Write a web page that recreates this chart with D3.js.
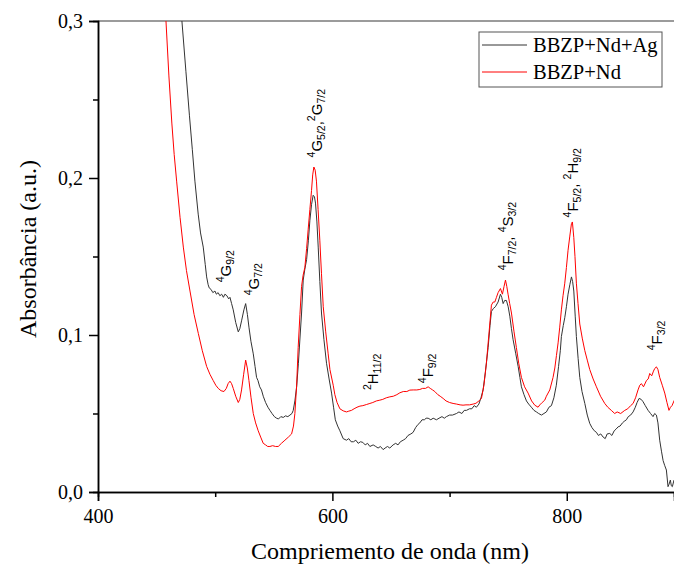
<!DOCTYPE html>
<html>
<head>
<meta charset="utf-8">
<script src="https://cdn.jsdelivr.net/npm/d3@7"></script>
<style>
  body { margin: 0; background: #fff; }
  .axis text { font-family: "Liberation Serif", "Times New Roman", Times, serif; font-size: 20px; fill: #000; }
  .axis path, .axis line { stroke: #000; stroke-width: 1.5; }
  .serif { font-family: "Liberation Serif", "Times New Roman", Times, serif; }
  .sans { font-family: "Liberation Sans", Arial, Helvetica, sans-serif; }
</style>
</head>
<body>
<div id="chart-area"></div>
<script>
// Nd-doped glass absorption, sample with silver (black) and without (red)
const agSeries = [[465,0.36],[468,0.33],[471.6,0.30],[475,0.268],[478,0.24],[480.5,0.218],[482.7,0.198],[485.5,0.177],[487.5,0.165],[489.8,0.156],[491.5,0.145],[492.7,0.137],[494,0.132],[494.9,0.130],[496.5,0.129],[498,0.127],[499.8,0.128],[501,0.126],[502.5,0.127],[504,0.125],[505.5,0.126],[507,0.124],[508.3,0.126],[510,0.125],[511.5,0.123],[512.6,0.124],[514,0.120],[515.4,0.116],[517.5,0.108],[519.7,0.102],[521,0.104],[522.5,0.109],[524.5,0.116],[526,0.120],[527.5,0.113],[528.8,0.105],[530.5,0.096],[532.5,0.088],[534,0.080],[535.3,0.073],[536.5,0.071],[538,0.067],[539.5,0.065],[541,0.061],[543,0.057],[545,0.054],[546.7,0.052],[548.5,0.050],[550.5,0.048],[552.4,0.047],[554,0.0465],[556,0.048],[558.1,0.0475],[560,0.0485],[562,0.048],[563.8,0.049],[565.5,0.050],[566.6,0.052],[568,0.058],[569.5,0.067],[571,0.082],[572.5,0.100],[573.7,0.114],[575.1,0.135],[576.5,0.142],[578,0.148],[579.5,0.160],[580.8,0.173],[582.2,0.183],[583.6,0.189],[584.7,0.188],[585.6,0.184],[586.8,0.172],[587.9,0.156],[589.3,0.134],[590.7,0.114],[592.8,0.097],[595,0.082],[597.2,0.072],[599.3,0.063],[601,0.054],[602.5,0.046],[604.5,0.042],[606.4,0.039],[609.2,0.034],[612,0.033],[614,0.034],[616,0.032],[618,0.032],[620,0.033],[622,0.031],[624,0.032],[626,0.0316],[628,0.030],[630,0.031],[632,0.029],[634.8,0.030],[637,0.029],[639,0.028],[641,0.029],[643.3,0.027],[645,0.028],[647,0.029],[649,0.028],[651.8,0.030],[654,0.031],[656,0.030],[658,0.032],[660.4,0.033],[662.5,0.034],[664.5,0.036],[667,0.037],[668.9,0.038],[671,0.041],[673,0.043],[674.6,0.044],[676.5,0.046],[678.5,0.046],[680,0.047],[681.7,0.047],[684,0.046],[686,0.047],[688.8,0.046],[691,0.047],[693.5,0.048],[695.5,0.047],[697.3,0.048],[700,0.049],[702.5,0.049],[705.9,0.050],[708,0.051],[710.5,0.050],[712.5,0.052],[714.4,0.052],[717,0.053],[719,0.053],[721,0.055],[722.9,0.054],[725,0.056],[726.8,0.060],[728.6,0.065],[730.5,0.076],[732.9,0.092],[734.5,0.106],[735.7,0.115],[737.5,0.117],[739.1,0.118],[741.4,0.121],[743.4,0.126],[744.5,0.124],[745.7,0.120],[747,0.122],[748.5,0.122],[750,0.118],[751.4,0.112],[752.8,0.104],[754.2,0.097],[756.5,0.088],[758.5,0.080],[760,0.073],[761.3,0.067],[763.5,0.062],[765.6,0.058],[767.5,0.056],[769.8,0.054],[772,0.052],[774.1,0.051],[776,0.050],[778.4,0.049],[780.5,0.050],[782.6,0.051],[784.8,0.054],[786.9,0.055],[789,0.060],[791.1,0.068],[793,0.080],[794.5,0.090],[795.4,0.099],[797,0.106],[798.3,0.111],[799.7,0.118],[801.1,0.126],[802.6,0.132],[804,0.137],[805,0.134],[806,0.128],[807.2,0.112],[808.2,0.099],[809.7,0.085],[811.1,0.073],[813,0.064],[815.4,0.0564],[817.5,0.049],[819.6,0.0437],[821.5,0.041],[823.5,0.039],[825.3,0.038],[827,0.036],[829,0.037],[831,0.035],[832.8,0.034],[834.5,0.037],[836.7,0.0373],[838.5,0.036],[840.5,0.039],[842,0.040],[843.8,0.0415],[845.5,0.042],[847.5,0.044],[849,0.045],[850.9,0.046],[852.5,0.048],[854.5,0.049],[856.6,0.051],[858.5,0.054],[860,0.057],[861.7,0.0596],[863.5,0.059],[865.1,0.0575],[867,0.055],[869.4,0.052],[871.5,0.050],[873.6,0.048],[875,0.050],[876.5,0.049],[877.8,0.044],[879.3,0.033],[880.8,0.026],[882.2,0.020],[883.5,0.017],[885,0.014],[886.4,0.0034],[887.3,0.005],[888.4,0.0076],[889.2,0.004],[890.1,0.0034],[891.5,0.0076]];

const ndSeries = [[448,0.40],[452,0.35],[455,0.325],[458,0.30],[460.5,0.265],[463,0.235],[465,0.215],[467.1,0.198],[470,0.175],[472.8,0.156],[475.5,0.141],[478.5,0.128],[482,0.113],[485.6,0.101],[489,0.090],[492.7,0.080],[495.5,0.075],[498.3,0.071],[500.5,0.068],[502.6,0.066],[505,0.0645],[507.5,0.064],[509.5,0.066],[511,0.069],[512.6,0.0706],[514,0.069],[515.4,0.066],[517.5,0.061],[519.7,0.057],[521,0.059],[522.5,0.065],[524.3,0.075],[526,0.084],[527.4,0.079],[528.8,0.071],[530.6,0.060],[532.5,0.050],[534.5,0.044],[536.7,0.039],[538.8,0.035],[541,0.031],[543,0.030],[544.8,0.029],[546.7,0.029],[549,0.0295],[551.5,0.029],[553.8,0.029],[556.5,0.031],[559.5,0.033],[562.5,0.035],[565.2,0.037],[566.8,0.042],[568,0.050],[569.5,0.068],[570.8,0.092],[572.3,0.113],[573.7,0.131],[575,0.138],[576.5,0.143],[578,0.155],[579.3,0.167],[580.8,0.180],[582.2,0.192],[583.2,0.202],[584.2,0.207],[585.3,0.205],[586.4,0.198],[587.8,0.180],[589.3,0.160],[590.7,0.139],[592.2,0.118],[594.3,0.102],[596.4,0.088],[597.9,0.078],[600.7,0.068],[602.1,0.062],[604,0.057],[606.4,0.053],[609.2,0.0517],[612,0.051],[614,0.0515],[616.3,0.052],[618.5,0.053],[621,0.054],[623.5,0.0547],[626,0.055],[629,0.0557],[632,0.0564],[634.5,0.057],[637.5,0.058],[640.5,0.0585],[643,0.059],[646,0.060],[649,0.0606],[652,0.061],[655,0.062],[657.6,0.0632],[660.5,0.064],[663.5,0.064],[666.1,0.0649],[669,0.065],[672,0.065],[674.6,0.0653],[677,0.066],[679.5,0.066],[681.7,0.067],[683.5,0.066],[685.5,0.065],[687.4,0.064],[690,0.062],[692,0.061],[694.5,0.0596],[697,0.058],[700,0.057],[703,0.0564],[706,0.056],[709,0.0555],[711.5,0.0553],[714,0.0555],[717,0.0555],[720.1,0.056],[722.5,0.0565],[725,0.058],[727.2,0.0596],[729.3,0.068],[731.4,0.082],[733.5,0.100],[735.7,0.119],[737.2,0.121],[738.6,0.121],[740,0.124],[741.4,0.127],[743.4,0.1296],[745.1,0.126],[746.5,0.131],[747.7,0.135],[748.8,0.131],[749.9,0.126],[751.3,0.120],[752.8,0.114],[755,0.102],[757,0.092],[759,0.082],[761.3,0.073],[764,0.067],[767,0.063],[770,0.058],[772.7,0.0553],[775.5,0.054],[777,0.0555],[779,0.057],[781.2,0.0585],[782.6,0.061],[785.5,0.065],[788.3,0.073],[789.8,0.079],[791.2,0.087],[792.6,0.095],[794,0.105],[795.4,0.116],[796.8,0.125],[798.3,0.133],[799.7,0.143],[801.1,0.154],[802.6,0.163],[804,0.171],[804.8,0.172],[806,0.162],[807,0.150],[808.2,0.133],[809.6,0.120],[811.1,0.107],[813.2,0.098],[815.4,0.090],[817.5,0.084],[819.6,0.078],[822.5,0.072],[825.3,0.067],[828.8,0.061],[832.4,0.0564],[835,0.054],[838,0.052],[840.9,0.050],[843,0.051],[846,0.050],[849.5,0.052],[852,0.053],[854.5,0.055],[856.6,0.0564],[858.7,0.060],[860.8,0.065],[862.3,0.068],[863.7,0.069],[865.5,0.067],[868,0.071],[869.5,0.072],[870.8,0.0755],[872.5,0.074],[874,0.077],[875.1,0.0787],[876.5,0.0797],[877.8,0.078],[879.3,0.073],[881.5,0.068],[883.6,0.063],[885.5,0.057],[887.2,0.052],[888.5,0.054],[889.8,0.055],[891.8,0.0585]];

const seriesNames = ["BBZP+Nd+Ag", "BBZP+Nd"];
const seriesColors = ["#333333", "#ff0000"];

const xMajor = [400, 600, 800];
const xMinor = [500, 700];
const yMajor = [0, 0.1, 0.2, 0.3];
const yMinor = [0.05, 0.15, 0.25];

// band labels: parts are [text, kind] with kind '' | 'sup' | 'sub'
const bandParts = [
  [["4","sup"],["G",""],["9/2","sub"]],
  [["4","sup"],["G",""],["7/2","sub"]],
  [["4","sup"],["G",""],["5/2","sub"],[",",""],["2","sup"],["G",""],["7/2","sub"]],
  [["2","sup"],["H",""],["11/2","sub"]],
  [["4","sup"],["F",""],["9/2","sub"]],
  [["4","sup"],["F",""],["7/2","sub"],[", ",""],["4","sup"],["S",""],["3/2","sub"]],
  [["4","sup"],["F",""],["5/2","sub"],[", ",""],["2","sup"],["H",""],["9/2","sub"]],
  [["4","sup"],["F",""],["3/2","sub"]]
];
const bandNm = [513.5, 537.4, 591.1, 638.9, 685.8, 754.1, 809.6, 881.3];
const bandAbs = [0.1336, 0.1253, 0.2131, 0.0649, 0.0693, 0.1412, 0.1749, 0.0903];

document.addEventListener("DOMContentLoaded", function () {
  var margin = { left: 98, right: 0, top: 21, bottom: 74 };
  var width = 674 - margin.left - margin.right,
      height = 566 - margin.top - margin.bottom;

  var svg = d3.select("#chart-area")
    .append("svg")
      .attr("width", 674)
      .attr("height", 566);

  var g = svg.append("g")
    .attr("transform", "translate(" + margin.left + ", " + margin.top + ")");

  let x = d3.scaleLinear().domain([400, 891.5]).range([0, width]);
  let y = d3.scaleLinear().domain([0, 0.3]).range([height, 0]);

  g.append("clipPath").attr("id", "clip")
    .append("rect").attr("width", width).attr("height", height);

  // top frame line
  g.append("line")
    .attr("x1", 0).attr("x2", width)
    .attr("y1", 0).attr("y2", 0)
    .attr("stroke", "#7a7a7a").attr("stroke-width", 1.5);

  let line = d3.line().x(d => x(d[0])).y(d => y(d[1]));

  [agSeries, ndSeries].forEach((s, i) => {
    g.append("path")
      .datum(s)
      .attr("clip-path", "url(#clip)")
      .attr("fill", "none")
      .attr("stroke", seriesColors[i])
      .attr("stroke-width", 1)
      .attr("d", line);
  });

  let comma = d => d3.format(".1f")(d).replace(".", ",");

  g.append("g").attr("class", "axis")
    .call(d3.axisLeft(y).tickValues(yMajor).tickFormat(comma).tickSize(9).tickPadding(6));
  g.append("g").attr("class", "axis")
    .call(d3.axisLeft(y).tickValues(yMinor).tickFormat("").tickSize(5));

  g.append("g").attr("class", "axis")
    .attr("transform", "translate(0, " + height + ")")
    .call(d3.axisBottom(x).tickValues(xMajor).tickFormat(d3.format("d")).tickSize(9).tickPadding(8));
  g.append("g").attr("class", "axis")
    .attr("transform", "translate(0, " + height + ")")
    .call(d3.axisBottom(x).tickValues(xMinor).tickFormat("").tickSize(5));

  g.selectAll(".axis").attr("font-family", null);

  // axis titles
  g.append("text")
    .attr("class", "serif")
    .attr("x", 292)
    .attr("y", height + 67)
    .attr("text-anchor", "middle")
    .style("font-size", "24px")
    .text("Compriemento de onda (nm)");

  g.append("text")
    .attr("class", "serif")
    .attr("transform", "translate(-62, 228) rotate(-90)")
    .attr("text-anchor", "middle")
    .style("font-size", "24px")
    .text("Absorbância (a.u.)");

  // band assignments
  bandParts.forEach((parts, i) => {
    let t = g.append("text")
      .attr("class", "sans")
      .attr("transform", "translate(" + x(bandNm[i]) + ", " + y(bandAbs[i]) + ") rotate(-90)")
      .style("font-size", "15px");
    let shift = 0;
    parts.forEach(p => {
      let target = p[1] === "sup" ? -7 : p[1] === "sub" ? 3 : 0;
      t.append("tspan")
        .attr("dy", target - shift)
        .style("font-size", p[1] ? "10.5px" : "15px")
        .text(p[0]);
      shift = target;
    });
  });

  // legend
  let legend = g.append("g").attr("transform", "translate(" + (479 - margin.left) + ", " + (32 - margin.top) + ")");
  legend.append("rect")
    .attr("width", 183).attr("height", 55)
    .attr("fill", "#fff").attr("stroke", "#555").attr("stroke-width", 1);
  seriesNames.forEach((name, i) => {
    legend.append("line")
      .attr("x1", 3).attr("x2", 48)
      .attr("y1", 13 + i * 27).attr("y2", 13 + i * 27)
      .attr("stroke", seriesColors[i]).attr("stroke-width", 1);
    legend.append("text")
      .attr("class", "serif")
      .attr("x", 54).attr("y", 20 + i * 27)
      .style("font-size", "20.5px")
      .text(name);
  });
});
</script>
</body>
</html>
